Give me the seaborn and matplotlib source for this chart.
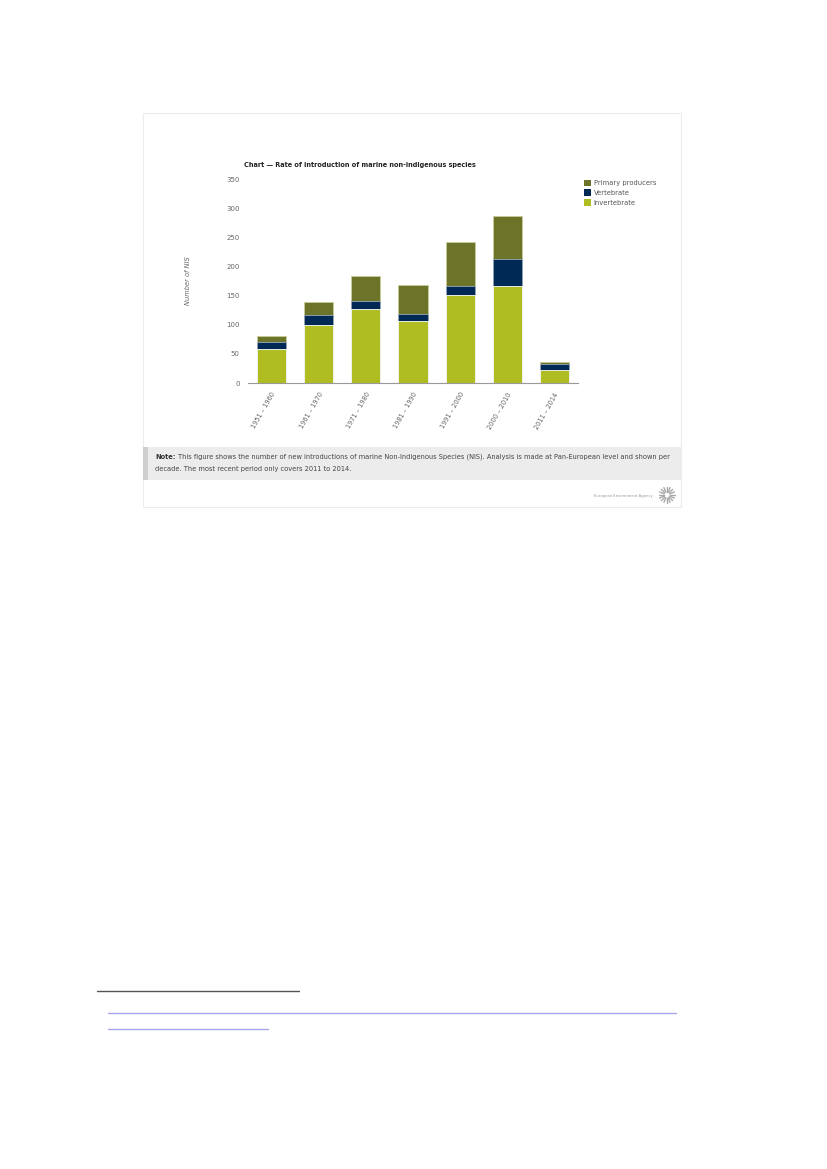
import numpy as np
import pandas as pd
import seaborn as sns
from matplotlib import pyplot as plt
from matplotlib.patches import Rectangle, Patch
from matplotlib.lines import Line2D

periods = ["1951 – 1960", "1961 – 1970", "1971 – 1980", "1981 – 1990",
           "1991 – 2000", "2000 – 2010", "2011 – 2014"]
invertebrate = [58, 99, 127, 106, 151, 166, 22]
vertebrate = [12, 17, 14, 12, 15, 46, 11]
primary = [10, 23, 42, 50, 76, 74, 3]
yticks = [0, 50, 100, 150, 200, 250, 300, 350]

c_prim = "#6b7429"
c_vert = "#002a55"
c_inv = "#b0bd22"

W, H = 827, 1169


def fx(x):
    return x / W


def fy(y):
    return 1 - y / H


sns.set_theme(style="white")
plt.rcParams["font.family"] = ["DejaVu Sans"]

df = pd.DataFrame({"period": periods, "inv": invertebrate, "vert": vertebrate, "prim": primary})
df["iv"] = df["inv"] + df["vert"]
df["total"] = df["iv"] + df["prim"]

fig = plt.figure(figsize=(W / 100, H / 100), dpi=100)
fig.patch.set_facecolor("white")

# panel border and note box
fig.patches.append(Rectangle((fx(143), fy(507)), fx(681) - fx(143), fy(113) - fy(507),
                             transform=fig.transFigure, fill=False, edgecolor="#ececec", lw=0.8))
fig.patches.append(Rectangle((fx(143), fy(480)), fx(681) - fx(143), fy(447) - fy(480),
                             transform=fig.transFigure, facecolor="#ececec", edgecolor="none"))
fig.patches.append(Rectangle((fx(143), fy(480)), fx(148) - fx(143), fy(447) - fy(480),
                             transform=fig.transFigure, facecolor="#cfcfcf", edgecolor="none"))

ax = fig.add_axes([fx(248), fy(383), fx(578) - fx(248), fy(179) - fy(383)])
sns.barplot(data=df, x="period", y="total", color=c_prim, width=0.62, saturation=1,
            edgecolor="#c9cc9a", linewidth=0.6, ax=ax)
sns.barplot(data=df, x="period", y="iv", color=c_vert, width=0.62, saturation=1,
            edgecolor="#9aa8c0", linewidth=0.6, ax=ax)
sns.barplot(data=df, x="period", y="inv", color=c_inv, width=0.62, saturation=1,
            edgecolor="#ffffff", linewidth=0.6, ax=ax)

ax.set_ylim(0, 350)
ax.set_xlim(-0.5, 6.5)
ax.set_yticks(yticks)
ax.set_yticklabels([str(v) for v in yticks], fontsize=5.0, color="#666666")
ax.set_xticks(range(len(periods)))
ax.set_xticklabels(periods, rotation=60, ha="right", rotation_mode="anchor",
                   fontsize=4.8, color="#666666")
ax.tick_params(axis="both", length=0, pad=6)
ax.set_xlabel("")
ax.set_ylabel("")
for s in ["top", "right", "left"]:
    ax.spines[s].set_visible(False)
ax.spines["bottom"].set_color("#999999")
ax.spines["bottom"].set_linewidth(0.8)

fig.text(fx(188), fy(281), "Number of NIS", rotation=90, style="italic",
         fontsize=4.8, color="#666666", ha="center", va="center")
fig.text(fx(244), fy(165), "Chart — Rate of introduction of marine non-indigenous species",
         fontsize=4.7, fontweight="bold", color="#222222", ha="left", va="center")

handles = [Patch(facecolor=c_prim, edgecolor="none"),
           Patch(facecolor=c_vert, edgecolor="none"),
           Patch(facecolor=c_inv, edgecolor="none")]
fig.legend(handles, ["Primary producers", "Vertebrate", "Invertebrate"],
           loc="upper left", bbox_to_anchor=(fx(579), fy(175)), frameon=False,
           fontsize=4.9, handlelength=1.1, handleheight=1.1, handletextpad=0.35,
           labelspacing=0.45, labelcolor="#555555", borderaxespad=0.3)

note = fig.text(fx(155), fy(457), "Note:", fontsize=4.78, fontweight="bold", color="#333333",
                ha="left", va="center")
fig.add_artist(plt.Annotation("This figure shows the number of new introductions of marine "
                              "Non-Indigenous Species (NIS). Analysis is made at Pan-European "
                              "level and shown per",
                              xy=(1, 0.5), xycoords=note, xytext=(2, 0),
                              textcoords="offset points", fontsize=4.78, color="#444444",
                              ha="left", va="center"))
fig.text(fx(155), fy(469), "decade. The most recent period only covers 2011 to 2014.",
         fontsize=4.78, color="#444444", ha="left", va="center")

fig.text(fx(653), fy(496), "European Environment Agency", fontsize=2.7, color="#9a9a9a",
         ha="right", va="center")
cx, cy = 667, 495
for a in np.linspace(0, 2 * np.pi, 16, endpoint=False):
    r1, r2 = 3, 8
    fig.add_artist(Line2D([fx(cx + r1 * np.cos(a)), fx(cx + r2 * np.cos(a))],
                          [fy(cy + r1 * np.sin(a)), fy(cy + r2 * np.sin(a))],
                          transform=fig.transFigure, color="#a8a8a8", lw=1.0))

# footnote rule and link underlines
fig.add_artist(Line2D([fx(97), fx(299)], [fy(991), fy(991)], transform=fig.transFigure,
                      color="#555555", lw=1.0))
fig.add_artist(Line2D([fx(108), fx(676)], [fy(1013), fy(1013)], transform=fig.transFigure,
                      color="#a4a4f0", lw=1.0))
fig.add_artist(Line2D([fx(108), fx(268)], [fy(1029), fy(1029)], transform=fig.transFigure,
                      color="#a4a4f0", lw=1.0))

fig.savefig("out.png", dpi=100, facecolor="white")
